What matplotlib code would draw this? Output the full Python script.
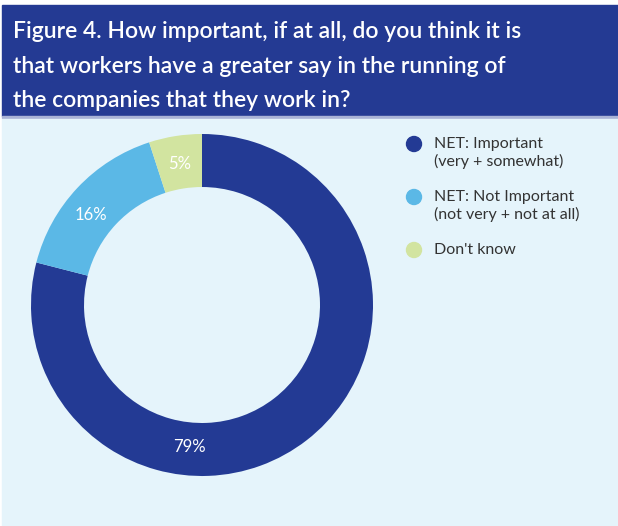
import matplotlib
matplotlib.use("Agg")
import matplotlib.pyplot as plt
from matplotlib.patches import Rectangle, Ellipse
import numpy as np

# survey answers, percent of respondents
labels = ["NET: Important\n(very + somewhat)",
          "NET: Not Important\n(not very + not at all)",
          "Don't know"]
values = [79, 16, 5]
colors = ["#233a94", "#5bb8e6", "#d2e4a0"]
# angle (deg) where each percent label sits on the ring; None = wedge middle
label_angle = [-95, 141, None]

title = ("Figure 4. How important, if at all, do you think it is\n"
         "that workers have a greater say in the running of\n"
         "the companies that they work in?")

W, H = 618, 526
DARK = "#243a93"
LIGHT = "#e5f4fb"

plt.rcParams["font.family"] = ["Lato", "DejaVu Sans"]

fig = plt.figure(figsize=(W / 100, H / 100), dpi=100)
fig.patch.set_facecolor("white")


def px_box(x0, y0, x1, y1):
    # pixel box (top-left origin) -> figure fraction rect
    return (x0 / W, 1 - y1 / H, (x1 - x0) / W, (y1 - y0) / H)


def add_rect(box, color):
    x, y, w, h = px_box(*box)
    fig.patches.append(Rectangle((x, y), w, h, transform=fig.transFigure,
                                 color=color, zorder=0))


# header band + panel background
add_rect((2, 5, 618, 116), DARK)
add_rect((2, 116, 618, 117.5), "#a9b3d6")
add_rect((2, 119, 618, 526), LIGHT)

fig.text(13 / W, 1 - 21 / H, title, color="white", fontsize=16.5,
         fontweight="semibold", va="top", ha="left", linespacing=1.8)

# donut
cx, cy, r = 202, 305, 171
ax = fig.add_axes(px_box(cx - r, cy - r, cx + r, cy + r), zorder=2)
ax.set_facecolor("none")
wedges, _ = ax.pie(values, colors=colors, startangle=90, counterclock=False,
                   radius=1.0, wedgeprops=dict(width=0.31, linewidth=0))
ax.set_xlim(-1, 1)
ax.set_ylim(-1, 1)
ax.set_aspect("equal")
ax.axis("off")

start = 90.0
for v, ang in zip(values, label_angle):
    span = v / 100 * 360
    a = np.deg2rad(ang if ang is not None else start - span / 2)
    rr = 0.835
    ax.text(rr * np.cos(a), rr * np.sin(a), f"{v}%", color="white",
            fontsize=12, ha="center", va="center")
    start -= span

# legend drawn as dots + text
for i, (lab, col) in enumerate(zip(labels, colors)):
    ly = 144 + i * 53
    fig.patches.append(Ellipse((414 / W, 1 - ly / H), 15 / W, 15 / H,
                               transform=fig.transFigure, color=col,
                               zorder=3))
    fig.text(434 / W, 1 - (ly - 7) / H, lab, color="#333333", fontsize=11.5,
             va="top", ha="left", linespacing=1.25)

fig.savefig("out.png", dpi=100, facecolor=fig.get_facecolor())
